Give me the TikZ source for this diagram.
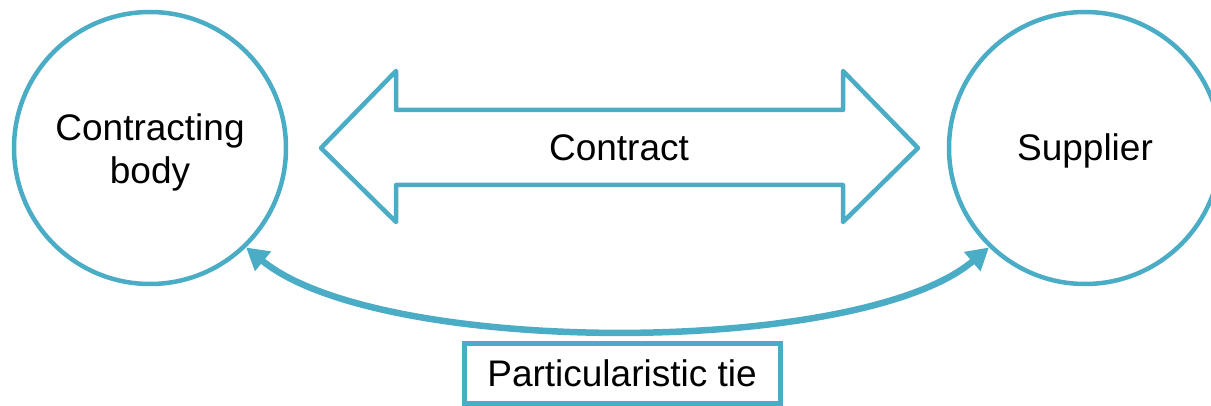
\documentclass[tikz,border=0pt]{standalone}
\usepackage{fontspec}
\setmainfont{Liberation Sans}
\usetikzlibrary{arrows.meta}
\definecolor{teal}{RGB}{75,172,198}
\begin{document}
\begin{tikzpicture}[x=1pt,y=-1pt,
  party/.style={circle,draw=teal,line width=4.5pt,minimum size=272pt,inner sep=0pt,align=center,font=\fontsize{37}{43}\selectfont},
  lbl/.style={font=\fontsize{37}{43}\selectfont},
  tiebox/.style={draw=teal,line width=5pt,minimum width=316pt,minimum height=60pt,inner sep=0pt,font=\fontsize{37}{43}\selectfont},
  tiearrow/.style={draw=teal,line width=6.5pt,{Triangle[length=22pt,width=24pt]}-{Triangle[length=22pt,width=24pt]}}]
\useasboundingbox (0,0) rectangle (1211,406);
\node[party] (cb) at (150,148) {\raisebox{-5pt}[\height][\depth]{\begin{tabular}{@{}c@{}}Contracting\\body\end{tabular}}};
\node[party] (sup) at (1085,148) {\raisebox{-3pt}[\height][\depth]{Supplier}};
\draw[teal,line width=4.5pt,line join=round]
  (321,148) -- (396,71) -- (396,110) -- (843,110) -- (843,71) -- (918,148)
  -- (843,222) -- (843,185) -- (396,185) -- (396,222) -- cycle;
\node[lbl] (ct) at (619,148) {Contract};
\node[tiebox] (tie) at (622,373) {Particularistic tie};
\draw[tiearrow] (cb.-46) .. controls (380,357) and (860,357) .. (sup.-134);
\end{tikzpicture}
\end{document}
